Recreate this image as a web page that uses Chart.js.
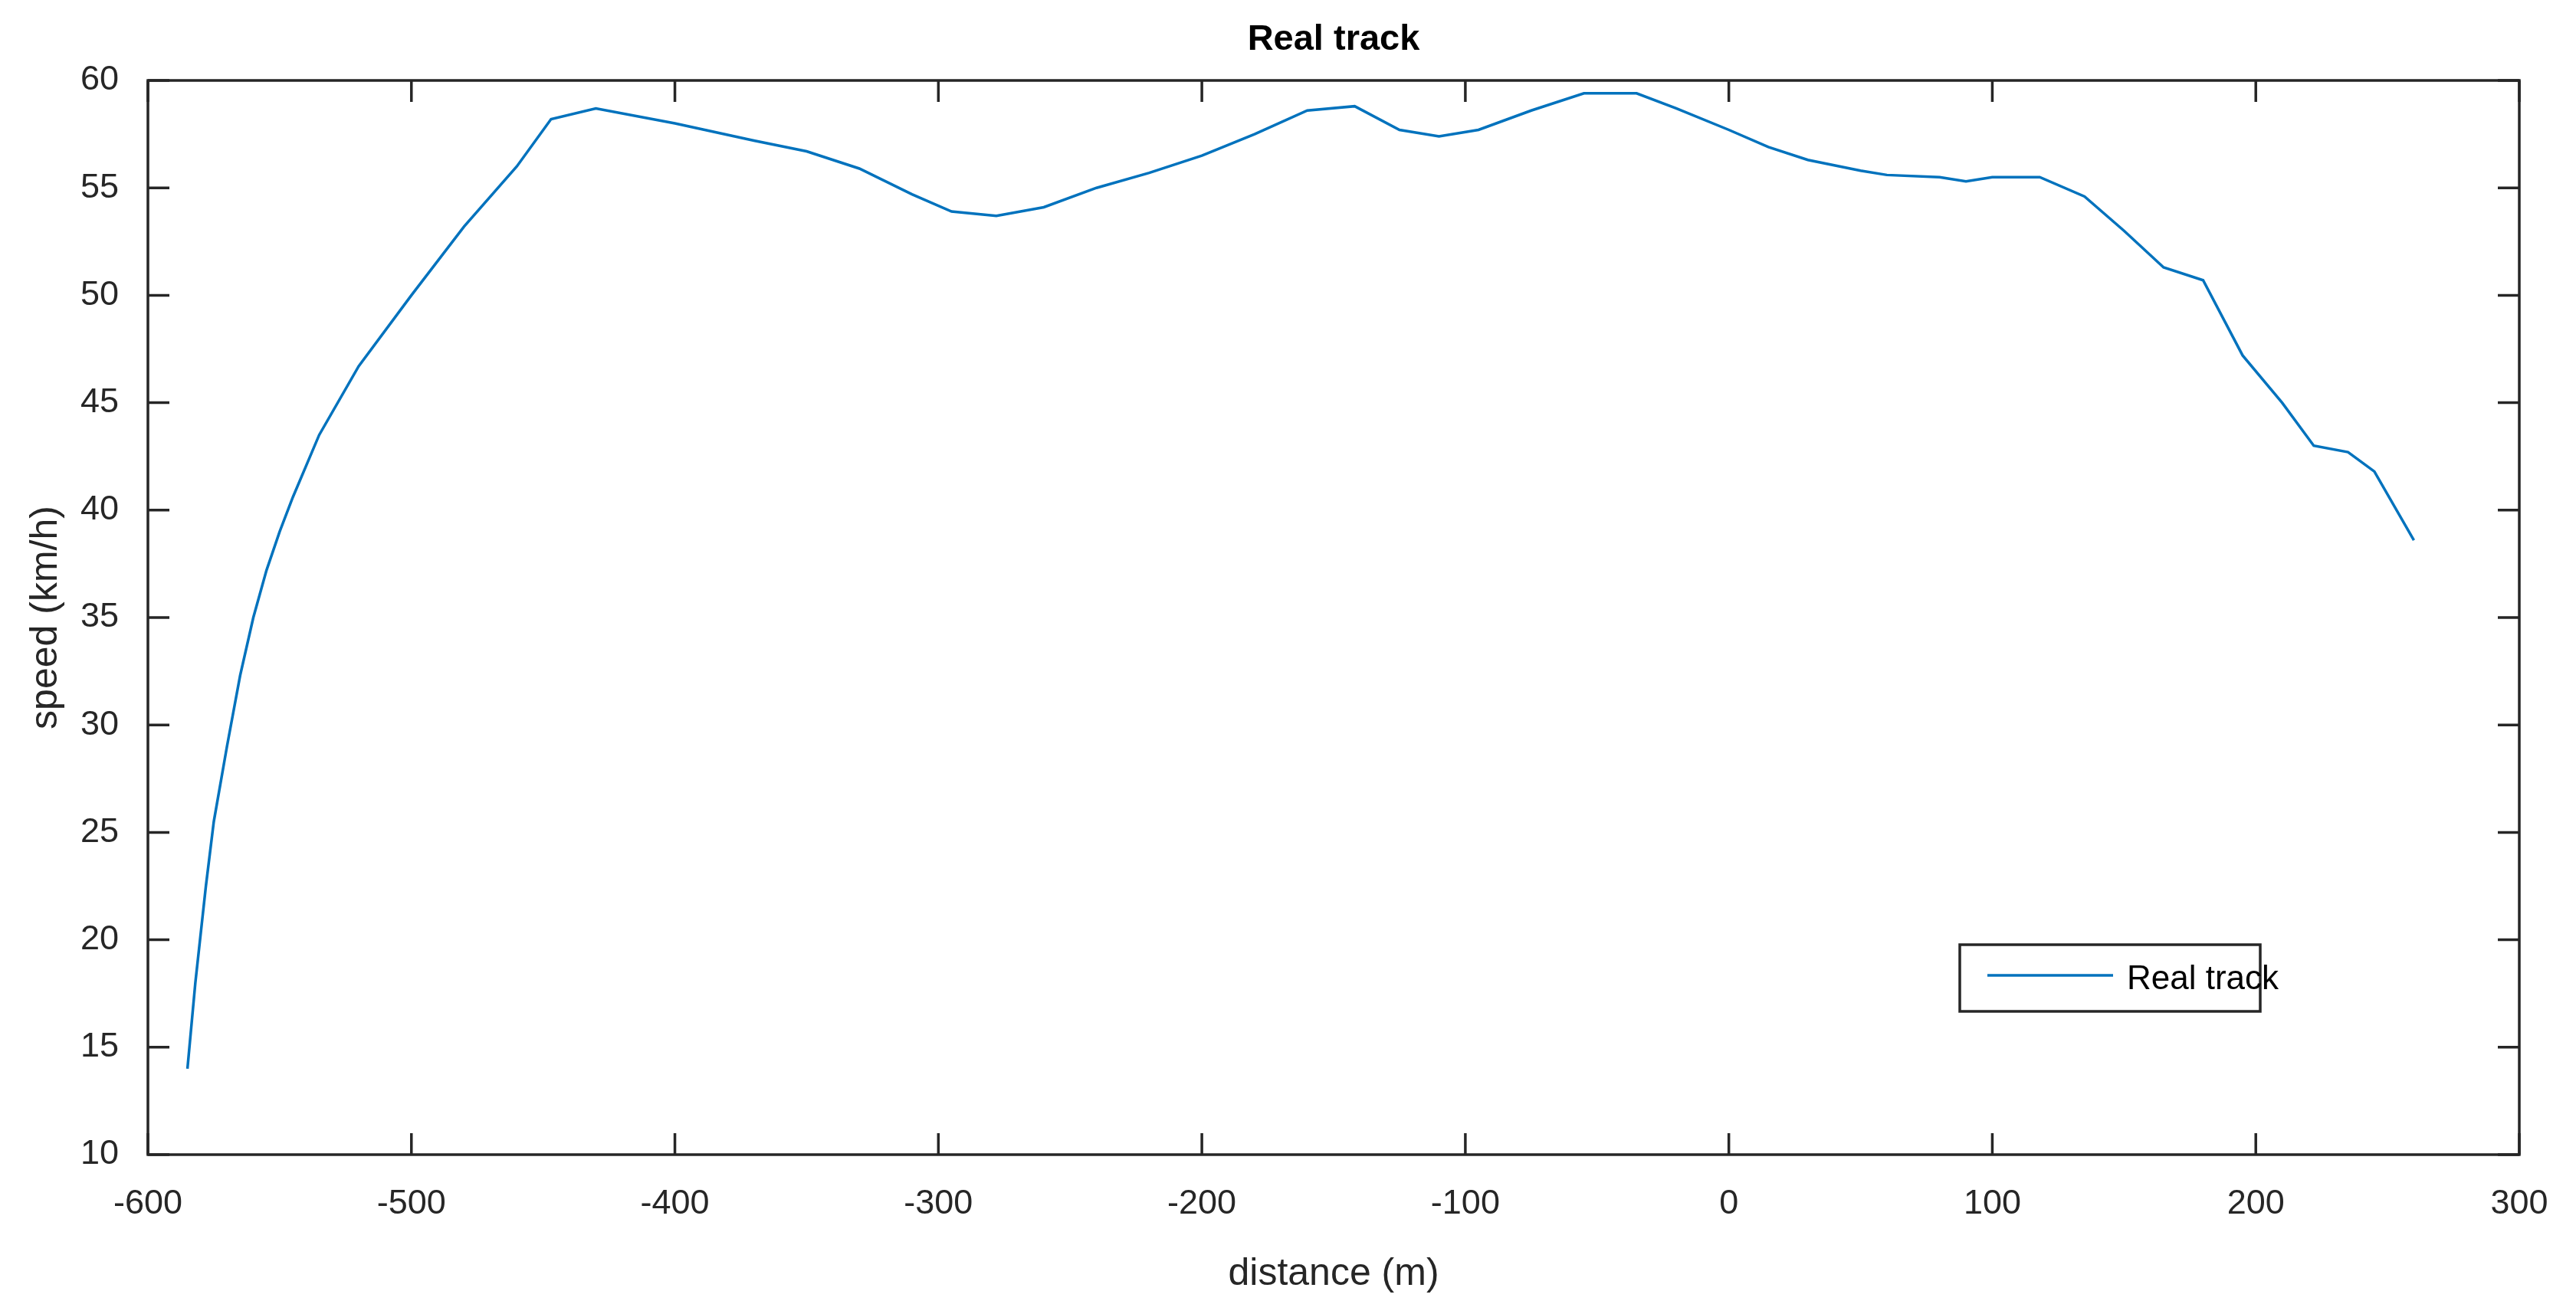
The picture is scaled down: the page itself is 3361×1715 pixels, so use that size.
<!DOCTYPE html>
<html>
<head>
<meta charset="utf-8">
<script src="https://cdn.jsdelivr.net/npm/chart.js@4"></script>
<style>
html, body { margin: 0; padding: 0; background: #fff; }
#wrap { width: 3361px; height: 1715px; }
</style>
</head>
<body>
<div id="wrap"><canvas id="trackChart"></canvas></div>
<script>
var distance = [-585, -582, -578, -575, -570, -565, -560, -555, -550, -545, -535, -520, -500, -480, -460, -447, -430, -400, -370, -350, -330, -310, -295, -278, -260, -240, -220, -200, -180, -160, -142, -125, -110, -95, -75, -55, -35, -20, 0, 15, 30, 50, 60, 80, 90, 100, 118, 135, 150, 165, 180, 195, 210, 222, 235, 245, 260];
var speed = [14, 18, 22.5, 25.5, 29, 32.3, 35, 37.2, 39, 40.6, 43.5, 46.7, 50, 53.2, 56, 58.2, 58.7, 58, 57.2, 56.7, 55.9, 54.7, 53.9, 53.7, 54.1, 55, 55.7, 56.5, 57.5, 58.6, 58.8, 57.7, 57.4, 57.7, 58.6, 59.4, 59.4, 58.7, 57.7, 56.9, 56.3, 55.8, 55.6, 55.5, 55.3, 55.5, 55.5, 54.6, 53, 51.3, 50.7, 47.2, 45, 43, 42.7, 41.8, 38.6];
var seriesName = "Real track";
var lineColor = '#0072BD';
var fontFam = '"Liberation Sans", Arial, sans-serif';

var points = distance.map(function (d, i) { return { x: d, y: speed[i] }; });

// box, inward ticks, title and legend drawn like the original figure
var matlabLook = {
  id: 'matlabLook',
  afterDraw: function (chart) {
    var ctx = chart.ctx, a = chart.chartArea;
    var xs = chart.scales.x, ys = chart.scales.y;
    ctx.save();
    ctx.strokeStyle = '#262626';
    ctx.lineWidth = 3.5;
    ctx.strokeRect(a.left, a.top, a.right - a.left, a.bottom - a.top);
    ctx.beginPath();
    xs.ticks.forEach(function (t) {
      var px = xs.getPixelForValue(t.value);
      ctx.moveTo(px, a.bottom); ctx.lineTo(px, a.bottom - 28);
      ctx.moveTo(px, a.top); ctx.lineTo(px, a.top + 28);
    });
    ys.ticks.forEach(function (t) {
      var py = ys.getPixelForValue(t.value);
      ctx.moveTo(a.left, py); ctx.lineTo(a.left + 28, py);
      ctx.moveTo(a.right, py); ctx.lineTo(a.right - 28, py);
    });
    ctx.stroke();

    ctx.fillStyle = '#000';
    ctx.font = 'bold 47px ' + fontFam;
    ctx.textAlign = 'center';
    ctx.textBaseline = 'middle';
    ctx.fillText(seriesName, (a.left + a.right) / 2, 52);

    // legend box
    var lx = 2557, ly = 1233, lw = 392, lh = 87;
    ctx.fillStyle = '#fff';
    ctx.fillRect(lx, ly, lw, lh);
    ctx.strokeStyle = '#262626';
    ctx.lineWidth = 3.5;
    ctx.strokeRect(lx, ly, lw, lh);
    ctx.strokeStyle = lineColor;
    ctx.lineWidth = 3.5;
    ctx.beginPath();
    ctx.moveTo(lx + 36, ly + 40); ctx.lineTo(lx + 200, ly + 40);
    ctx.stroke();
    ctx.fillStyle = '#000';
    ctx.font = '44px ' + fontFam;
    ctx.textAlign = 'left';
    ctx.fillText(seriesName, lx + 218, ly + 46);
    ctx.restore();
  }
};

var ctxL = document.getElementById("trackChart").getContext('2d');
var trackChart = new Chart(ctxL, {
  type: 'line',
  data: {
    datasets: [{
      label: seriesName,
      data: points,
      borderColor: lineColor,
      borderWidth: 3.5,
      pointRadius: 0,
      fill: false,
      tension: 0
    }]
  },
  options: {
    responsive: true,
    maintainAspectRatio: false,
    animation: false,
    layout: { padding: { top: 105, right: 74, left: 0, bottom: 0 } },
    plugins: {
      legend: { display: false },
      title: { display: false },
      tooltip: { enabled: false }
    },
    scales: {
      x: {
        type: 'linear',
        min: -600, max: 300,
        grid: { display: false },
        border: { display: false },
        ticks: { stepSize: 100, color: '#262626', font: { family: fontFam, size: 45 }, padding: 30, maxRotation: 0 },
        title: { display: true, text: 'distance (m)', color: '#262626', font: { family: fontFam, size: 50 }, padding: { top: 4, bottom: 22 } },
        afterFit: function (s) { s.height = 208; }
      },
      y: {
        min: 10, max: 60,
        grid: { display: false },
        border: { display: false },
        ticks: { stepSize: 5, color: '#262626', font: { family: fontFam, size: 45 }, padding: 30 },
        title: { display: true, text: 'speed (km/h)', color: '#262626', font: { family: fontFam, size: 50 }, padding: { top: 30, bottom: 0 } },
        afterFit: function (s) { s.width = 193; }
      }
    }
  },
  plugins: [matlabLook]
});
</script>
</body>
</html>
